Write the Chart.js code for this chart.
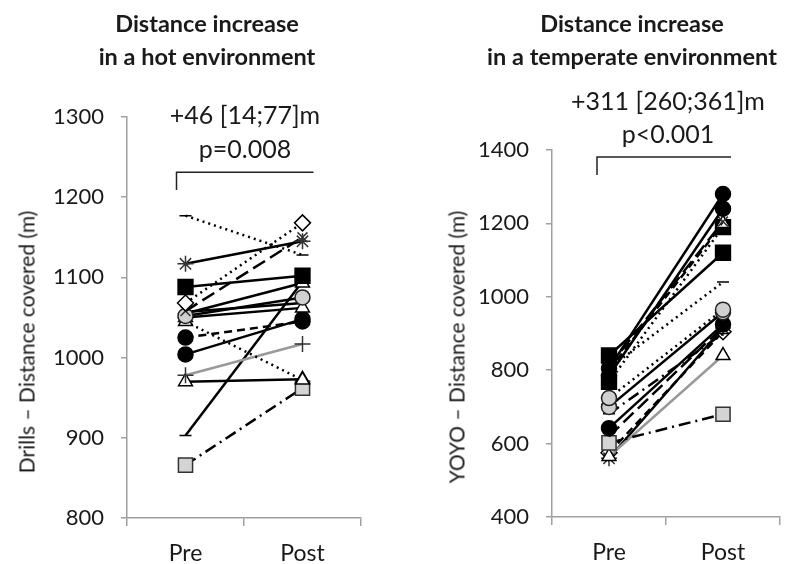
<!DOCTYPE html>
<html>
<head>
<meta charset="utf-8">
<script src="https://cdn.jsdelivr.net/npm/chart.js@4"></script>
<style>
  html, body { margin:0; padding:0; background:#fff; }
  #wrap { position:relative; width:785px; height:564px; overflow:hidden; background:#fff; }
  canvas { position:absolute; top:0; }
  .t { position:absolute; transform:translate(-50%,-50%); white-space:nowrap; font-family:Lato, "Open Sans", sans-serif; color:#1a1a1a; line-height:1; }
  .h { font-weight:bold; font-size:23.5px; }
  .a { font-size:25px; }
  .yt { font-size:21px; transform:translate(-50%,-50%) rotate(-90deg); }
</style>
</head>
<body>
<div id="wrap">
  <canvas id="c1" width="392" height="564" style="left:0"></canvas>
  <canvas id="c2" width="400" height="564" style="left:392px"></canvas>
  <div class="t h" style="left:207px;top:24px">Distance increase</div>
  <div class="t h" style="left:207px;top:57px">in a hot environment</div>
  <div class="t h" style="left:632px;top:24px">Distance increase</div>
  <div class="t h" style="left:632px;top:57px">in a temperate environment</div>
  <div class="t a" style="left:245px;top:114px">+46 [14;77]m</div>
  <div class="t a" style="left:245px;top:148px">p=0.008</div>
  <div class="t a" style="left:668px;top:100px">+311 [260;361]m</div>
  <div class="t a" style="left:668px;top:133px">p&lt;0.001</div>
  <div class="t yt" style="left:26px;top:342px">Drills – Distance covered (m)</div>
  <div class="t yt" style="left:456px;top:347px">YOYO – Distance covered (m)</div>
</div>
<script>
// ---------- data ----------
const categories = ['Pre', 'Post'];
const hotPre  = [1177, 1117, 1088, 1068, 1058, 1052, 1055, 1057, 1050, 1045, 1025, 1004, 978, 970, 903, 866];
const hotPost = [1128, 1145, 1102, 1168, 1150, 1075, 1093, 1068, 1062, 972, 1045, 1048, 1017, 973, 1095, 962];
const tempPre  = [805, 785, 810, 800, 840, 768, 805, 724, 700, 642, 620, 681, 602, 565, 560, 575];
const tempPost = [1280, 1240, 1205, 1200, 1120, 1190, 1040, 965, 958, 925, 918, 900, 680, 840, 915, 905];
const hotTicks = [800, 900, 1000, 1100, 1200, 1300];
const tempTicks = [400, 600, 800, 1000, 1200, 1400];

// ---------- styles ----------
const MK = {
  blackCircle:  { s:'circle',   r:7.5,  bg:'#000',    bc:'#000' },
  greyCircle:   { s:'circle',   r:7.5,  bg:'#d0d0d0', bc:'#222' },
  blackSquare:  { s:'rect',     r:10.5, bg:'#000',    bc:'#000' },
  greySquare:   { s:'rect',     r:10,   bg:'#d4d4d4', bc:'#333' },
  diamond:      { s:'rectRot',  r:8,    bg:'#fff',    bc:'#000' },
  triangle:     { s:'triangle', r:8,    bg:'#fff',    bc:'#000' },
  star:         { s:'star',     r:8,    bg:'#fff',    bc:'#333' },
  plus:         { s:'cross',    r:8,    bg:'#fff',    bc:'#333' },
  xmark:        { s:'crossRot', r:7,    bg:'#fff',    bc:'#333' },
  dash:         { s:'line',     r:6,    bg:'#000',    bc:'#000' },
  none:         { s:'circle',   r:0,    bg:'#000',    bc:'#000' }
};
const LS = { solid:[], dot:[2,4], dash:[8,5], long:[14,6], dashdot:[12,5,2,5] };

const hotStyle = [
  ['dash','dot','#000'], ['star','solid','#000'], ['blackSquare','solid','#000'], ['diamond','dot','#000'],
  ['xmark','long','#000'], ['greyCircle','solid','#000'], ['triangle','solid','#000'], ['none','solid','#000'],
  ['triangle','solid','#000'], ['triangle','dot','#000'], ['blackCircle','dash','#000'], ['blackCircle','solid','#000'],
  ['plus','solid','#999'], ['triangle','solid','#000'], ['dash','solid','#000'], ['greySquare','dashdot','#000']
];
const tempStyle = [
  ['blackCircle','solid','#000'], ['blackCircle','solid','#000'], ['xmark','long','#000'], ['triangle','dash','#000'],
  ['blackSquare','solid','#000'], ['blackSquare','dot','#000'], ['dash','dot','#000'], ['greyCircle','dot','#000'],
  ['greyCircle','solid','#000'], ['blackCircle','solid','#000'], ['none','long','#000'], ['dash','dashdot','#000'],
  ['greySquare','dashdot','#000'], ['triangle','solid','#999'], ['star','solid','#000'], ['diamond','dash','#000']
];

function makeSets(pre, post, style) {
  return pre.map((v, i) => {
    const [mk, ls, col] = style[i];
    const m = MK[mk];
    return {
      data: [v, post[i]],
      borderColor: col,
      borderWidth: 2.5,
      borderDash: LS[ls],
      pointStyle: m.s,
      pointRadius: m.r,
      pointBackgroundColor: m.bg,
      pointBorderColor: m.bc,
      pointBorderWidth: 1.5,
      tension: 0,
      fill: false
    };
  });
}

const bracketPlugin = {
  id: 'bracket',
  afterDatasetsDraw(chart, args, o) {
    const { x, y } = chart.scales;
    const ctx = chart.ctx;
    const x0 = x.getPixelForValue(0) + o.dx0;
    const x1 = x.getPixelForValue(1) + o.dx1;
    const yt = y.getPixelForValue(o.top);
    const yb = y.getPixelForValue(o.bottom);
    ctx.save();
    ctx.strokeStyle = '#222';
    ctx.lineWidth = 1.5;
    ctx.beginPath();
    ctx.moveTo(x0, yb); ctx.lineTo(x0, yt); ctx.lineTo(x1, yt);
    ctx.stroke();
    ctx.restore();
  }
};

function makeChart(id, pre, post, style, ticks, yWidth, xHeight, pad, bracket) {
  return new Chart(document.getElementById(id), {
    type: 'line',
    data: { labels: categories, datasets: makeSets(pre, post, style) },
    plugins: [bracketPlugin],
    options: {
      responsive: false,
      animation: false,
      layout: { padding: pad },
      plugins: { legend: { display: false }, tooltip: { enabled: false }, bracket: bracket },
      scales: {
        x: {
          type: 'category',
          offset: true,
          grid: { offset: true, drawOnChartArea: false, drawTicks: true, tickLength: 8, color: '#a0a0a0', lineWidth: 1.5 },
          border: { color: '#a0a0a0', width: 1.5 },
          ticks: { font: { family: 'Lato', size: 23 }, color: '#1a1a1a', padding: 14 },
          afterFit: s => { s.height = xHeight; }
        },
        y: {
          min: ticks[0], max: ticks[ticks.length - 1],
          afterBuildTicks: s => { s.ticks = ticks.map(v => ({ value: v })); },
          grid: { drawOnChartArea: false, drawTicks: true, tickLength: 6, color: '#a0a0a0', lineWidth: 1.5 },
          border: { color: '#a0a0a0', width: 1.5 },
          ticks: { font: { family: 'Lato', size: 22 }, color: '#1a1a1a', padding: 17, callback: v => String(v) },
          afterFit: s => { s.width = yWidth; }
        }
      }
    }
  });
}

makeChart('c1', hotPre, hotPost, hotStyle, hotTicks, 127, 46, { top: 117, right: 31, left: 0, bottom: 0 },
  { dx0: -9, dx1: 11, top: 1231, bottom: 1209 });
makeChart('c2', tempPre, tempPost, tempStyle, tempTicks, 160, 47, { top: 150, right: 4, left: 0, bottom: 0 },
  { dx0: -12, dx1: 8, top: 1381, bottom: 1332 });
</script>
</body>
</html>
